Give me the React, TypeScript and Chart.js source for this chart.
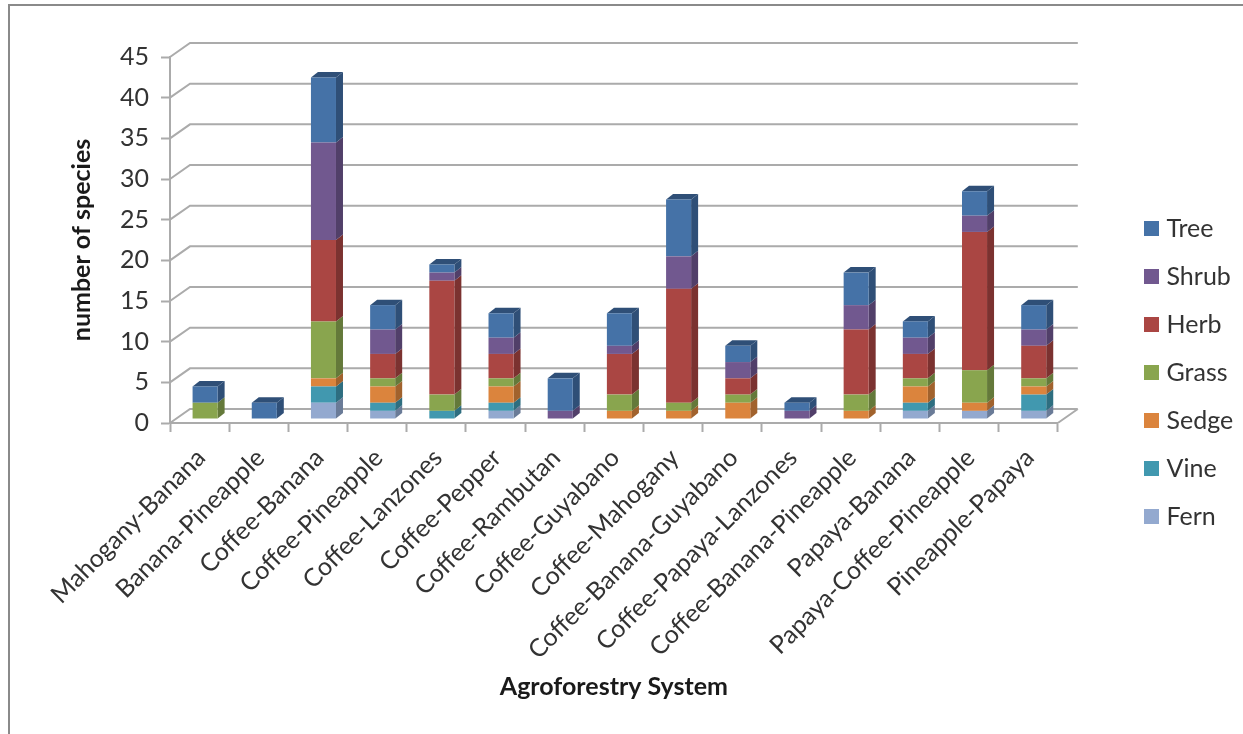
import React, { useEffect, useRef } from "react";
import { Chart, registerables } from "chart.js";

Chart.register(...registerables);

const systems = [
  "Mahogany-Banana",
  "Banana-Pineapple",
  "Coffee-Banana",
  "Coffee-Pineapple",
  "Coffee-Lanzones",
  "Coffee-Pepper",
  "Coffee-Rambutan",
  "Coffee-Guyabano",
  "Coffee-Mahogany",
  "Coffee-Banana-Guyabano",
  "Coffee-Papaya-Lanzones",
  "Coffee-Banana-Pineapple",
  "Papaya-Banana",
  "Papaya-Coffee-Pineapple",
  "Pineapple-Papaya",
];

const fern = [0, 0, 2, 1, 0, 1, 0, 0, 0, 0, 0, 0, 1, 1, 1];
const vine = [0, 0, 2, 1, 1, 1, 0, 0, 0, 0, 0, 0, 1, 0, 2];
const sedge = [0, 0, 1, 2, 0, 2, 0, 1, 1, 2, 0, 1, 2, 1, 1];
const grass = [2, 0, 7, 1, 2, 1, 0, 2, 1, 1, 0, 2, 1, 4, 1];
const herb = [0, 0, 10, 3, 14, 3, 0, 5, 14, 2, 0, 8, 3, 17, 4];
const shrub = [0, 0, 12, 3, 1, 2, 1, 1, 4, 2, 1, 3, 2, 2, 2];
const tree = [2, 2, 8, 3, 1, 3, 4, 4, 7, 2, 1, 4, 2, 3, 3];

const seriesNames = ["Fern", "Vine", "Sedge", "Grass", "Herb", "Shrub", "Tree"];
const seriesValues = [fern, vine, sedge, grass, herb, shrub, tree];
const faceColors = ["#93A9CF", "#4198AF", "#DB843D", "#89A54E", "#AA4643", "#71588F", "#4572A7"];
const sideColors = ["#6A7B97", "#2E6E80", "#A1622D", "#64793A", "#7B3230", "#513F69", "#2F4F77"];

const GRID = "#ABABAB";
const TEXT = "#333333";
const FONT = "Lato";

// Depth of the chart walls and of the bars, in canvas pixels.
const WALL_DX = 20;
const WALL_DY = 14;
const BAR_DX = 7;
const BAR_DY = 5.5;
const BAR_SHIFT_X = 5.5;
const BAR_SHIFT_Y = -4;

// A plain square used as the legend key, so the label can sit close beside it.
function legendSwatch(color: string) {
  const swatch = document.createElement("canvas");
  swatch.width = 15;
  swatch.height = 15;
  const g = swatch.getContext("2d") as CanvasRenderingContext2D;
  g.fillStyle = color;
  g.fillRect(0, 0, 15, 15);
  return swatch;
}

const framePlugin = {
  id: "frame",
  beforeDraw(chart: any) {
    const { ctx, width, height } = chart;
    ctx.save();
    ctx.strokeStyle = "#8A8A8A";
    ctx.lineWidth = 2;
    ctx.beginPath();
    ctx.moveTo(9, height);
    ctx.lineTo(9, 5);
    ctx.lineTo(width, 5);
    ctx.stroke();
    ctx.restore();
  },
};

const wallPlugin = {
  id: "walls",
  beforeDatasetsDraw(chart: any) {
    const { ctx, chartArea, scales } = chart;
    const { left, right } = chartArea;
    ctx.save();
    ctx.strokeStyle = GRID;
    ctx.lineWidth = 2;
    ctx.beginPath();
    for (const tick of scales.y.ticks) {
      const y = scales.y.getPixelForValue(tick.value);
      ctx.moveTo(left, y);
      ctx.lineTo(left + WALL_DX, y - WALL_DY);
      ctx.lineTo(right + WALL_DX, y - WALL_DY);
    }
    const y0 = scales.y.getPixelForValue(0);
    ctx.moveTo(right, y0);
    ctx.lineTo(right + WALL_DX, y0 - WALL_DY);
    ctx.stroke();
    ctx.restore();
  },
};

const barDepthPlugin = {
  id: "barDepth",
  beforeDatasetsDraw(chart: any) {
    const { ctx } = chart;
    const count = chart.data.labels.length;
    ctx.save();
    ctx.translate(BAR_SHIFT_X, BAR_SHIFT_Y);
    for (let c = 0; c < count; c++) {
      let topMost = -1;
      for (let d = 0; d < seriesValues.length; d++) {
        if (seriesValues[d][c] > 0) topMost = d;
      }
      for (let d = 0; d <= topMost; d++) {
        if (seriesValues[d][c] <= 0) continue;
        const bar = chart.getDatasetMeta(d).data[c].getProps(["x", "y", "base", "width"], true);
        const x0 = bar.x - bar.width / 2;
        const x1 = bar.x + bar.width / 2;
        ctx.fillStyle = sideColors[d];
        ctx.beginPath();
        ctx.moveTo(x1, bar.base);
        ctx.lineTo(x1 + BAR_DX, bar.base - BAR_DY);
        ctx.lineTo(x1 + BAR_DX, bar.y - BAR_DY);
        ctx.lineTo(x1, bar.y);
        ctx.closePath();
        ctx.fill();
        if (d === topMost) {
          ctx.beginPath();
          ctx.moveTo(x0, bar.y);
          ctx.lineTo(x0 + BAR_DX, bar.y - BAR_DY);
          ctx.lineTo(x1 + BAR_DX, bar.y - BAR_DY);
          ctx.lineTo(x1, bar.y);
          ctx.closePath();
          ctx.fill();
        }
      }
    }
    // The bar faces stand on the middle of the floor, so they share this offset.
    // It stays active until the datasets have been painted.
  },
  afterDatasetsDraw(chart: any) {
    chart.ctx.restore();
  },
};

// The legend sits well clear of the floor's right edge.
const legendPlacementPlugin = {
  id: "legendPlacement",
  afterLayout(chart: any) {
    const legend = chart.legend;
    const shift = 1126 - legend.left;
    legend.left += shift;
    legend.right += shift;
    legend.top = 50;
    legend.bottom = 50 + legend.height;
  },
};

export default function App() {
  const canvasRef = useRef<HTMLCanvasElement>(null);

  useEffect(() => {
    const swatches = faceColors.map(legendSwatch);
    const chart = new Chart(canvasRef.current as HTMLCanvasElement, {
      type: "bar",
      data: {
        labels: systems,
        datasets: seriesNames.map((name, i) => ({
          label: name,
          data: seriesValues[i],
          backgroundColor: faceColors[i],
          borderWidth: 0,
          clip: false,
          categoryPercentage: 1,
          barPercentage: 0.423,
        })),
      },
      options: {
        responsive: false,
        animation: false,
        devicePixelRatio: 1,
        layout: { padding: { left: 67, top: 57, right: 68, bottom: 32 } },
        plugins: {
          tooltip: { enabled: false },
          title: { display: false },
          legend: {
            position: "right",
            reverse: true,
            labels: {
              boxHeight: 15,
              usePointStyle: true,
              pointStyleWidth: 5,
              padding: 23,
              color: TEXT,
              font: { family: FONT, size: 25 },
              generateLabels: (c: any) =>
                Chart.defaults.plugins.legend.labels
                  .generateLabels(c)
                  .map((item: any) => ({ ...item, pointStyle: swatches[item.datasetIndex] })),
            },
          },
        },
        scales: {
          x: {
            stacked: true,
            offset: true,
            afterFit: (s: any) => {
              s.height = 279;
            },
            border: { color: GRID, width: 2 },
            grid: { drawOnChartArea: false, drawTicks: true, tickLength: 9, tickColor: GRID, tickWidth: 2 },
            ticks: {
              autoSkip: false,
              maxRotation: 45,
              minRotation: 45,
              padding: 11,
              labelOffset: 1.5,
              color: TEXT,
              font: { family: FONT, size: 25 },
            },
            title: {
              display: true,
              text: "Agroforestry System",
              color: "#1A1A1A",
              font: { family: FONT, size: 25, weight: "bold" },
              padding: { top: 0, bottom: 0 },
            },
          },
          y: {
            stacked: true,
            min: 0,
            max: 45,
            afterFit: (s: any) => {
              s.width = 103;
            },
            border: { color: GRID, width: 2 },
            grid: { drawOnChartArea: false, drawTicks: true, tickLength: 9, tickColor: GRID, tickWidth: 2 },
            ticks: {
              stepSize: 5,
              padding: 12,
              color: TEXT,
              font: { family: FONT, size: 25 },
            },
            title: {
              display: true,
              text: "number of species",
              color: "#1A1A1A",
              font: { family: FONT, size: 25, weight: "bold" },
              padding: { top: 0, bottom: 0 },
            },
          },
        },
      },
      plugins: [framePlugin, wallPlugin, barDepthPlugin, legendPlacementPlugin],
    } as any);
    return () => chart.destroy();
  }, []);

  return (
    <div style={{ position: "fixed", left: 0, top: 0, width: 1243, height: 734, background: "#fff" }}>
      <canvas ref={canvasRef} width={1243} height={734} style={{ display: "block" }} />
    </div>
  );
}
